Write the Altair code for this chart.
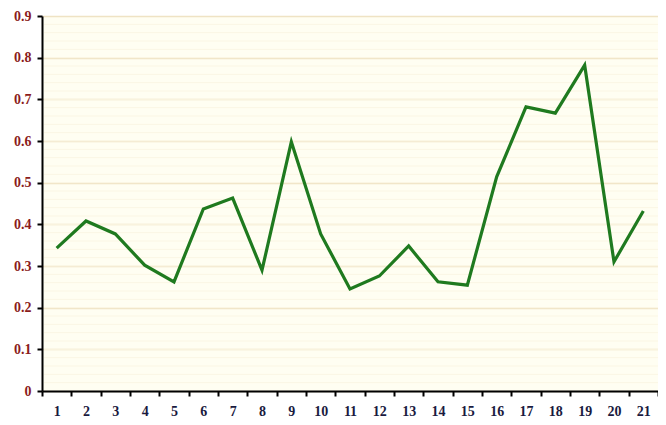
import altair as alt
import pandas as pd

categories = [str(i) for i in range(1, 22)]
values = [0.343, 0.408, 0.377, 0.302, 0.262, 0.437, 0.463, 0.290, 0.598, 0.377,
          0.245, 0.276, 0.348, 0.262, 0.254, 0.514, 0.682, 0.667, 0.782, 0.310, 0.432]
major_ticks = [0, 0.1, 0.2, 0.3, 0.4, 0.5, 0.6, 0.7, 0.8, 0.9]
minor_ticks = [round(i * 0.02, 2) for i in range(1, 45)]

df = pd.DataFrame({"cat": categories, "val": values})
minor_df = pd.DataFrame({"v": minor_ticks})

FONT = "Liberation Serif"

y_scale = alt.Scale(domain=[0, 0.9], nice=False, zero=True)

minor = alt.Chart(minor_df).mark_rule(color="#fbf6e4", strokeWidth=1).encode(
    y=alt.Y("v:Q", scale=y_scale),
    x=alt.value(2),
    x2=alt.value(616),
)

line = alt.Chart(df).mark_line(color="#1f7a1f", strokeWidth=3.2).encode(
    x=alt.X("cat:O", sort=categories, title=None,
            scale=alt.Scale(type="band", paddingInner=0, paddingOuter=0),
            axis=alt.Axis(labelAngle=0, tickBand="extent", domainColor="black",
                          domainWidth=2, tickColor="black", tickWidth=2, tickSize=5,
                          labelColor="#1a1a40", labelFont=FONT, labelFontSize=14,
                          labelFontWeight="bold", labelPadding=8, grid=False, zindex=1)),
    y=alt.Y("val:Q", scale=y_scale, title=None,
            axis=alt.Axis(values=major_ticks, format="~g", grid=True, gridColor="#efe3c4",
                          gridWidth=1.5, domainColor="black", domainWidth=2,
                          tickColor="black", tickWidth=2, tickSize=5,
                          labelColor="#8b1c1c", labelFont=FONT, labelFontSize=14,
                          labelFontWeight="bold", labelPadding=6)),
)

chart = alt.layer(minor, line).properties(
    width=616, height=375,
    autosize=alt.AutoSizeParams(type="none"),
    padding={"left": 34, "top": 8, "right": 0, "bottom": 34},
    background="white",
).configure_view(fill="#fffef2", stroke=None)

chart.save("out.html", embed_options={"renderer": "svg", "actions": False})
